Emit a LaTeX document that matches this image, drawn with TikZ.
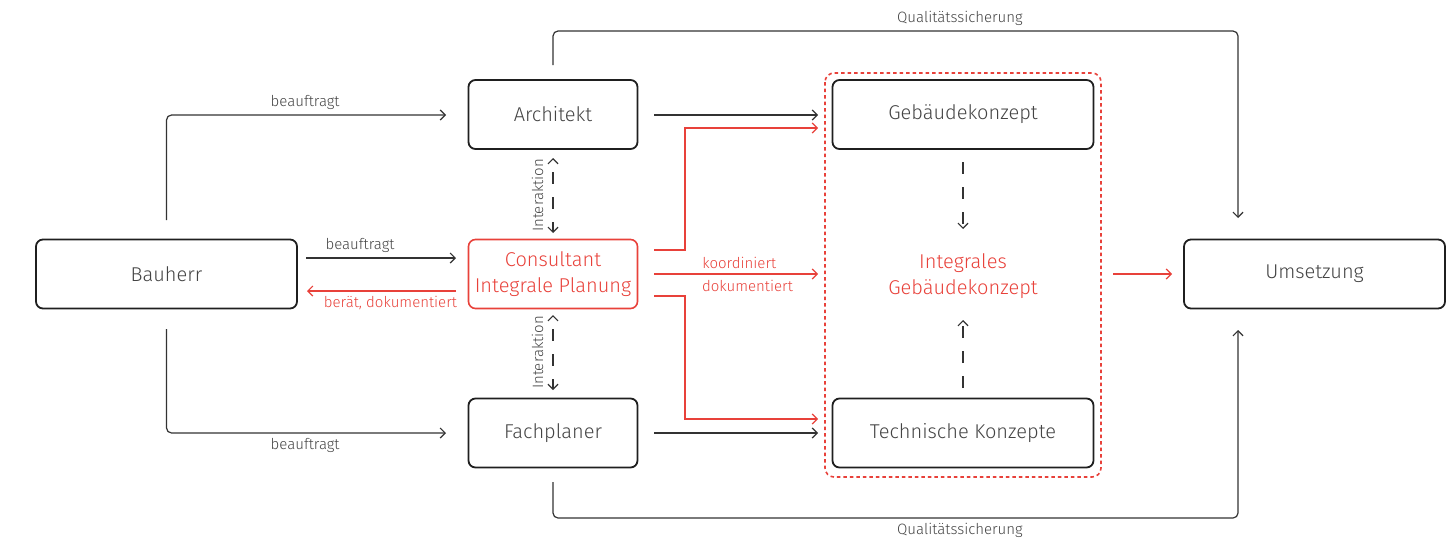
\documentclass[tikz,border=0pt]{standalone}
\usepackage{fontspec}
\IfFontExistsTF{Fira Sans Light}{\setmainfont{Fira Sans Light}}{\setmainfont{Fira Sans}}
\usetikzlibrary{arrows.meta}
\definecolor{cred}{HTML}{E8413A}
\definecolor{cline}{HTML}{333333}
\definecolor{ctext}{HTML}{444444}
\tikzset{
  box/.style={draw=black!88, line width=1.8pt, rounded corners=7pt, minimum width=169pt, minimum height=69pt, inner sep=0pt, align=center, font=\fontsize{20}{25.5}\selectfont, text=ctext},
  wbox/.style={box, minimum width=261pt},
  redbox/.style={box, draw=cred, text=cred, line width=1.6pt},
  tip/.style={-{Straight Barb[length=5pt,width=10pt,line width=1.2pt]}},
  conn/.style={draw=cline, line width=1.2pt, rounded corners=5pt, tip},
  rconn/.style={conn, draw=cred, sharp corners},
  dconn/.style={conn, dash pattern=on 12pt off 13pt},
  biarrow/.style={{Straight Barb[length=5pt,width=10pt,line width=1.2pt]}-{Straight Barb[length=5pt,width=10pt,line width=1.2pt]}},
  lbl/.style={font=\fontsize{15}{17}\selectfont, text=ctext, inner sep=1pt},
  rlbl/.style={lbl, text=cred},
}
\begin{document}
\begin{tikzpicture}[x=1pt,y=-1pt]
\useasboundingbox (0,0) rectangle (1455,542);
% container
\draw[cred, line width=1.6pt, dash pattern=on 3.5pt off 3pt, rounded corners=9pt] (825,73) rectangle (1101,477);
% nodes
\node[wbox] (bau) at (166.5,274) {Bauherr};
\node[box] (arc) at (553,114.5) {Architekt};
\node[redbox] (con) at (553,274) {Consultant\\Integrale Planung};
\node[box] (fach) at (553,433) {Fachplaner};
\node[wbox] (geb) at (963,114.5) {Gebäudekonzept};
\node[wbox] (tech) at (963,433) {Technische Konzepte};
\node[wbox] (ums) at (1314.5,274) {Umsetzung};
\node[align=center, font=\fontsize{20}{26}\selectfont, text=cred] (igk) at (963,276) {Integrales\\Gebäudekonzept};
% coordinates
\coordinate (bt) at (166.5,220);
\coordinate (bte) at (446,115);
\coordinate (bb) at (166.5,329);
\coordinate (bbe) at (446,433);
\coordinate (b1s) at (306,258);
\coordinate (b1e) at (456,258);
\coordinate (r1s) at (456,291);
\coordinate (r1e) at (307,291);
\coordinate (i1s) at (553,158);
\coordinate (i1e) at (553,233);
\coordinate (i2s) at (553,315);
\coordinate (i2e) at (553,390);
\coordinate (ags) at (654,115);
\coordinate (age) at (818,115);
\coordinate (fts) at (654,433);
\coordinate (fte) at (818,433);
\coordinate (rts) at (654,250);
\coordinate (rt) at (685,128);
\coordinate (rte) at (818,128);
\coordinate (rbs) at (654,296);
\coordinate (rb) at (685,419);
\coordinate (rbe) at (818,419);
\coordinate (rms) at (654,274);
\coordinate (rme) at (818,274);
\coordinate (gds) at (963,162);
\coordinate (gde) at (963,229);
\coordinate (tus) at (963,388);
\coordinate (tue) at (963,320);
\coordinate (us) at (1113,274);
\coordinate (ue) at (1172,274);
\coordinate (at) at (553,65);
\coordinate (qt) at (1238,31);
\coordinate (qte) at (1238,218);
\coordinate (fb) at (553,482);
\coordinate (qb) at (1238,518);
\coordinate (qbe) at (1238,330);
% Bauherr connections
\draw[conn] (bt) |- (bte) node[lbl, pos=0.748, above=4pt] {beauftragt};
\draw[conn] (bb) |- (bbe) node[lbl, pos=0.748, below=4pt] {beauftragt};
\draw[conn] (b1s) -- (b1e) node[lbl, pos=0.36, above=4pt] {beauftragt};
\draw[rconn] (r1s) -- (r1e) node[rlbl, pos=0.44, below=4pt] {berät, dokumentiert};
% Interaktion
\draw[dconn, biarrow, dash phase=12pt] (i1s) -- (i1e) node[lbl, midway, rotate=90, above=8pt] {Interaktion};
\draw[dconn, biarrow, dash phase=12pt] (i2s) -- (i2e) node[lbl, midway, rotate=90, above=8pt] {Interaktion};
% to concepts
\draw[conn] (ags) -- (age);
\draw[conn] (fts) -- (fte);
\draw[rconn] (rts) -| (rt) -- (rte);
\draw[rconn] (rbs) -| (rb) -- (rbe);
\draw[rconn] (rms) -- (rme) node[rlbl, pos=0.52, above=4pt] {koordiniert} node[rlbl, pos=0.57, below=5pt] {dokumentiert};
% inner dashed
\draw[dconn] (gds) -- (gde);
\draw[dconn] (tus) -- (tue);
% to Umsetzung
\draw[rconn] (us) -- (ue);
% Qualitaetssicherung
\draw[conn] (at) |- (qt) node[lbl, pos=0.797, above=4pt] {Qualitätssicherung} -- (qte);
\draw[conn] (fb) |- (qb) node[lbl, pos=0.797, below=4pt] {Qualitätssicherung} -- (qbe);
\end{tikzpicture}
\end{document}
